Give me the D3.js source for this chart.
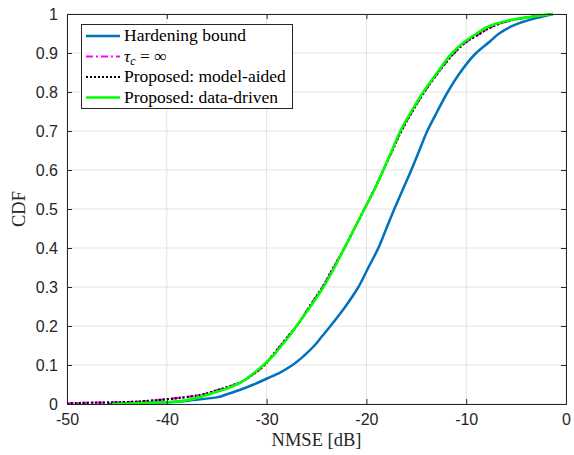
<!DOCTYPE html>
<html>
<head>
<meta charset="utf-8">
<script src="https://cdn.jsdelivr.net/npm/d3@7"></script>
<style>
  html, body { margin: 0; padding: 0; background: #fff; }
  svg { display: block; }
</style>
</head>
<body>
<svg id="chart" width="574" height="455"></svg>
<script>
// Empirical CDF of the NMSE, sampled as (CDF level, NMSE in dB)
const hardeningLevels = [0, 0.005, 0.01, 0.017, 0.025, 0.036, 0.05, 0.066, 0.08, 0.1, 0.125, 0.15, 0.175, 0.2, 0.25, 0.3, 0.35, 0.4, 0.45, 0.5, 0.55, 0.6, 0.65, 0.7, 0.75, 0.8, 0.85, 0.9, 0.93, 0.95, 0.97, 0.98, 0.99, 1.0];
const hardeningNmse   = [-46, -39.5, -37.4, -35.0, -34.0, -32.7, -31.3, -29.9, -28.7, -27.4, -26.2, -25.2, -24.4, -23.6, -22.1, -20.8, -19.8, -18.8, -18.0, -17.2, -16.35, -15.5, -14.7, -13.9, -12.9, -11.85, -10.6, -9.0, -7.6, -6.7, -5.3, -4.3, -2.9, -1.3];

const tauInfLevels = [0, 0.002, 0.005, 0.01, 0.015, 0.02, 0.035, 0.055, 0.075, 0.1, 0.125, 0.15, 0.175, 0.2, 0.25, 0.3, 0.35, 0.4, 0.45, 0.5, 0.55, 0.6, 0.65, 0.7, 0.75, 0.8, 0.85, 0.9, 0.93, 0.95, 0.97, 0.98, 0.99, 1.0];
const tauInfNmse   = [-50, -49.5, -44, -41, -39, -37.4, -35.0, -32.7, -31.4, -30.2, -29.4, -28.6, -27.8, -27.0, -25.7, -24.4, -23.3, -22.2, -21.2, -20.2, -19.2, -18.3, -17.4, -16.5, -15.4, -14.2, -12.8, -11.2, -9.9, -8.6, -7.2, -6.0, -4.2, -1.3];

const modelAidedLevels = [0, 0.002, 0.005, 0.01, 0.015, 0.02, 0.035, 0.055, 0.075, 0.1, 0.125, 0.15, 0.175, 0.2, 0.25, 0.3, 0.35, 0.4, 0.45, 0.5, 0.55, 0.6, 0.65, 0.7, 0.75, 0.8, 0.85, 0.9, 0.93, 0.95, 0.97, 0.98, 0.99, 1.0];
const modelAidedNmse   = [-50, -49.5, -44, -41, -39, -37.4, -35.0, -32.7, -31.4, -30.2, -29.4, -28.6, -27.8, -27.0, -25.7, -24.4, -23.3, -22.2, -21.2, -20.2, -19.2, -18.3, -17.4, -16.5, -15.4, -14.2, -12.8, -11.2, -9.9, -8.6, -7.2, -6.0, -4.2, -1.3];

const dataDrivenLevels = [0, 0.005, 0.01, 0.02, 0.035, 0.05, 0.06, 0.075, 0.1, 0.125, 0.15, 0.175, 0.2, 0.25, 0.3, 0.35, 0.4, 0.45, 0.5, 0.55, 0.6, 0.65, 0.7, 0.75, 0.8, 0.85, 0.9, 0.93, 0.95, 0.97, 0.98, 0.99, 1.0];
const dataDrivenNmse   = [-45.5, -39.5, -38.0, -36.4, -34.5, -33.0, -32.3, -31.5, -30.3, -29.3, -28.5, -27.7, -27.0, -25.6, -24.3, -23.2, -22.2, -21.2, -20.2, -19.2, -18.3, -17.45, -16.6, -15.5, -14.3, -12.9, -11.4, -10.1, -8.95, -7.6, -6.3, -4.3, -1.3];

const xTicks = [-50, -40, -30, -20, -10, 0];
const xTickLabels = ["-50", "-40", "-30", "-20", "-10", "0"];
const yTicks = [0, 0.1, 0.2, 0.3, 0.4, 0.5, 0.6, 0.7, 0.8, 0.9, 1];
const yTickLabels = ["0", "0.1", "0.2", "0.3", "0.4", "0.5", "0.6", "0.7", "0.8", "0.9", "1"];

const series = [
  { name: "Hardening bound", levels: hardeningLevels, nmse: hardeningNmse, color: "#0072BD", width: 2.5, dash: null },
  { name: "tau", levels: tauInfLevels, nmse: tauInfNmse, color: "#FF00FF", width: 2.2, dash: "7,3,2,3" },
  { name: "Proposed: model-aided", levels: modelAidedLevels, nmse: modelAidedNmse, color: "#000000", width: 2.2, dash: "2,2" },
  { name: "Proposed: data-driven", levels: dataDrivenLevels, nmse: dataDrivenNmse, color: "#00FF00", width: 2.6, dash: null }
];

const svg = d3.select("#chart");
const margin = { left: 67, right: 8, top: 14, bottom: 51 };
const W = 574, H = 455;
const x = d3.scaleLinear().domain([-50, 0]).range([margin.left, W - margin.right]);
const y = d3.scaleLinear().domain([0, 1]).range([H - margin.bottom, margin.top]);

const axisColor = "#262626";
const sans = "'Liberation Sans', Arial, sans-serif";
const serif = "'Liberation Serif', 'Times New Roman', serif";

// grid
const grid = svg.append("g");
grid.selectAll("line.gx").data(xTicks).join("line")
  .attr("x1", d => x(d)).attr("x2", d => x(d))
  .attr("y1", y(0)).attr("y2", y(1))
  .attr("stroke", "#e3e3e3").attr("stroke-width", 1);
grid.selectAll("line.gy").data(yTicks).join("line")
  .attr("y1", d => y(d)).attr("y2", d => y(d))
  .attr("x1", x(-50)).attr("x2", x(0))
  .attr("stroke", "#e3e3e3").attr("stroke-width", 1);

// curves
svg.append("clipPath").attr("id", "plotclip").append("rect")
  .attr("x", x(-50)).attr("y", y(1) - 2).attr("width", x(0) - x(-50)).attr("height", y(0) - y(1) + 2);
const line = d3.line().x(d => x(d[0])).y(d => y(d[1])).curve(d3.curveMonotoneY);
const curves = svg.append("g").attr("clip-path", "url(#plotclip)");
series.forEach(s => {
  const pts = s.nmse.map((v, i) => [v, s.levels[i]]);
  curves.append("path").datum(pts)
    .attr("d", line)
    .attr("fill", "none")
    .attr("stroke", s.color)
    .attr("stroke-width", s.width)
    .attr("stroke-linejoin", "round")
    .attr("stroke-dasharray", s.dash);
});

// axes: bottom/left with labels, top/right ticks only, ticks inward
const tickLen = 5;
const axB = d3.axisBottom(x).tickValues(xTicks).tickSize(-tickLen).tickPadding(10).tickFormat((d, i) => xTickLabels[i]);
const axT = d3.axisTop(x).tickValues(xTicks).tickSize(-tickLen).tickFormat("");
const axL = d3.axisLeft(y).tickValues(yTicks).tickSize(-tickLen).tickPadding(9).tickFormat((d, i) => yTickLabels[i]);
const axR = d3.axisRight(y).tickValues(yTicks).tickSize(-tickLen).tickFormat("");

function styleAxis(g) {
  g.selectAll("path.domain").attr("stroke", axisColor).attr("stroke-width", 1);
  g.selectAll(".tick line").attr("stroke", axisColor);
  g.selectAll(".tick text").attr("fill", axisColor).style("font-family", sans).style("font-size", "16px");
}
svg.append("g").attr("transform", `translate(0,${y(0)})`).call(axB).call(styleAxis);
svg.append("g").attr("transform", `translate(0,${y(1)})`).call(axT).call(styleAxis);
svg.append("g").attr("transform", `translate(${x(-50)},0)`).call(axL).call(styleAxis);
svg.append("g").attr("transform", `translate(${x(0)},0)`).call(axR).call(styleAxis);

// axis titles
svg.append("text")
  .attr("x", (x(-50) + x(0)) / 2).attr("y", 446)
  .attr("text-anchor", "middle")
  .style("font-family", serif).style("font-size", "18.5px").attr("fill", axisColor)
  .text("NMSE [dB]");
svg.append("text")
  .attr("transform", `translate(25,${(y(0) + y(1)) / 2}) rotate(-90)`)
  .attr("text-anchor", "middle")
  .style("font-family", serif).style("font-size", "18.5px").attr("fill", axisColor)
  .text("CDF");

// legend
const lg = svg.append("g");
lg.append("rect").attr("x", 81.5).attr("y", 24.5).attr("width", 211).attr("height", 84)
  .attr("fill", "#fff").attr("stroke", axisColor).attr("stroke-width", 1);
const rowY = [36, 56.5, 77, 97.5];
series.forEach((s, i) => {
  lg.append("line").attr("x1", 86).attr("x2", 120).attr("y1", rowY[i]).attr("y2", rowY[i])
    .attr("stroke", s.color).attr("stroke-width", s.width).attr("stroke-dasharray", s.dash);
  const t = lg.append("text").attr("x", 124).attr("y", rowY[i] + 5)
    .style("font-family", serif).style("font-size", "17.5px").attr("fill", "#000");
  if (s.name === "tau") {
    t.append("tspan").style("font-style", "italic").text("τ");
    t.append("tspan").style("font-style", "italic").style("font-size", "12px").attr("dy", 3).text("c");
    t.append("tspan").attr("dy", -3).text(" = ∞");
  } else {
    t.text(s.name);
  }
});
</script>
</body>
</html>
